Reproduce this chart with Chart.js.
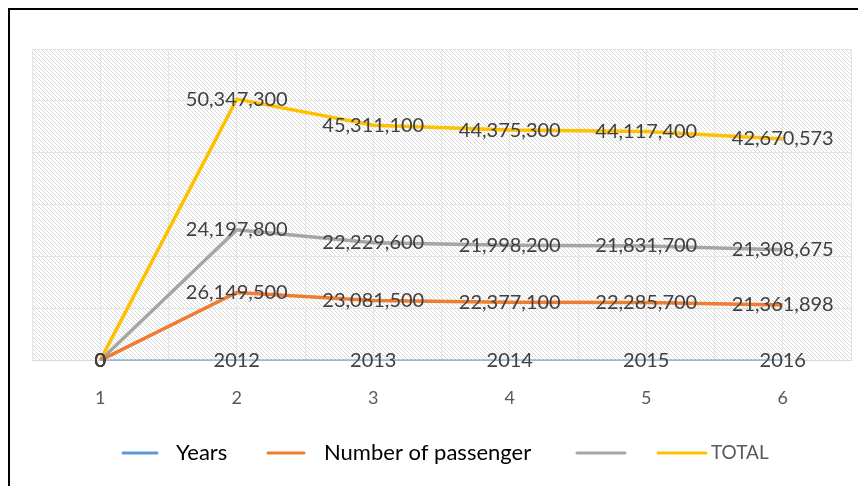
<!DOCTYPE html>
<html>
<head>
<meta charset="utf-8">
<script src="https://cdn.jsdelivr.net/npm/chart.js@4"></script>
<style>
  html, body { margin: 0; padding: 0; background: #fff; }
  #wrap { position: relative; width: 858px; height: 486px; overflow: hidden; }
  #frame { position: absolute; left: 8px; top: 8px; width: 900px; height: 520px;
           border-left: 2px solid #000; border-top: 2px solid #000; pointer-events: none; }
  canvas { position: absolute; left: 0; top: 0; }
</style>
</head>
<body>
<div id="wrap">
  <canvas id="chart" width="858" height="486"></canvas>
  <div id="frame"></div>
</div>
<script>
const categories = ['1', '2', '3', '4', '5', '6'];
const years = [0, 2012, 2013, 2014, 2015, 2016];
const passengers = [0, 26149500, 23081500, 22377100, 22285700, 21361898];
const unnamed = [0, 24197800, 22229600, 21998200, 21831700, 21308675];
const totals = [0, 50347300, 45311100, 44375300, 44117400, 42670573];
const seriesNames = ['Years', 'Number of passenger', '', 'TOTAL'];

const FONT = 'Lato, "Open Sans", sans-serif';

// hatched plot background
function hatchPattern(ctx) {
  const c = document.createElement('canvas');
  c.width = 4; c.height = 4;
  const p = c.getContext('2d');
  p.fillStyle = '#ffffff';
  p.fillRect(0, 0, 4, 4);
  p.strokeStyle = '#d9d9d9';
  p.lineWidth = 1;
  p.beginPath();
  p.moveTo(-1, -1); p.lineTo(5, 5);
  p.moveTo(-1, 3); p.lineTo(1, 5);
  p.moveTo(3, -1); p.lineTo(5, 1);
  p.stroke();
  return ctx.createPattern(c, 'repeat');
}

const backgroundPlugin = {
  id: 'hatchBg',
  beforeDraw(chart) {
    const {ctx, chartArea: a} = chart;
    ctx.save();
    ctx.fillStyle = '#fff';
    ctx.fillRect(0, 0, chart.width, chart.height);
    ctx.fillStyle = hatchPattern(ctx);
    ctx.fillRect(a.left, a.top, a.right - a.left, a.bottom - a.top);
    ctx.restore();
  }
};

// value labels centred on each point
const valueLabels = {
  id: 'valueLabels',
  afterDatasetsDraw(chart) {
    const ctx = chart.ctx;
    ctx.save();
    ctx.font = '20px ' + FONT;
    ctx.fillStyle = '#404040';
    ctx.textAlign = 'center';
    ctx.textBaseline = 'middle';
    chart.data.datasets.forEach((ds, i) => {
      chart.getDatasetMeta(i).data.forEach((pt, j) => {
        const v = ds.data[j];
        const txt = ds.plainLabels ? String(v) : v.toLocaleString('en-US');
        ctx.fillText(txt, pt.x, pt.y);
      });
    });
    ctx.restore();
  }
};

// Excel-like legend below the axis
const legendItems = [
  {x: 123, len: 34, gap: 19, font: '22px ' + FONT, color: '#000'},
  {x: 268, len: 36, gap: 20, font: '22px ' + FONT, color: '#000'},
  {x: 577, len: 48, gap: 0, font: '22px ' + FONT, color: '#000'},
  {x: 658, len: 48, gap: 5, font: '19px ' + FONT, color: '#595959'}
];
const customLegend = {
  id: 'customLegend',
  afterDraw(chart) {
    const ctx = chart.ctx;
    const y = 453;
    ctx.save();
    chart.data.datasets.forEach((ds, i) => {
      const it = legendItems[i];
      ctx.strokeStyle = ds.borderColor;
      ctx.lineWidth = 3;
      ctx.lineCap = 'round';
      ctx.beginPath();
      ctx.moveTo(it.x, y);
      ctx.lineTo(it.x + it.len, y);
      ctx.stroke();
      ctx.font = it.font;
      ctx.fillStyle = it.color;
      ctx.textBaseline = 'middle';
      ctx.fillText(ds.label, it.x + it.len + it.gap, y);
    });
    ctx.restore();
  }
};

new Chart(document.getElementById('chart'), {
  type: 'line',
  data: {
    labels: categories,
    datasets: [
      {label: seriesNames[0], data: years, borderColor: '#5B9BD5', borderWidth: 2, plainLabels: true},
      {label: seriesNames[1], data: passengers, borderColor: '#ED7D31', borderWidth: 3.5},
      {label: seriesNames[2], data: unnamed, borderColor: '#A5A5A5', borderWidth: 3.5},
      {label: seriesNames[3], data: totals, borderColor: '#FFC000', borderWidth: 3.5}
    ]
  },
  options: {
    responsive: false,
    animation: false,
    elements: {point: {radius: 0}, line: {tension: 0, fill: false}},
    layout: {padding: {left: 32, right: 7, top: 49, bottom: 50}},
    plugins: {legend: {display: false}, tooltip: {enabled: false}},
    scales: {
      x: {
        offset: true,
        grid: {color: '#e4e4e4', drawTicks: false},
        border: {color: '#d9d9d9'},
        ticks: {color: '#595959', font: {family: FONT, size: 18}, padding: 27}
      },
      x2: {
        type: 'category',
        labels: categories,
        position: 'top',
        offset: true,
        grid: {offset: true, color: '#e4e4e4', drawTicks: false},
        border: {display: false},
        ticks: {display: false}
      },
      y: {
        stacked: true,
        min: 0,
        max: 120000000,
        ticks: {display: false, stepSize: 20000000},
        grid: {color: '#e4e4e4', drawTicks: false},
        border: {display: false}
      }
    }
  },
  plugins: [backgroundPlugin, valueLabels, customLegend]
});
</script>
</body>
</html>
